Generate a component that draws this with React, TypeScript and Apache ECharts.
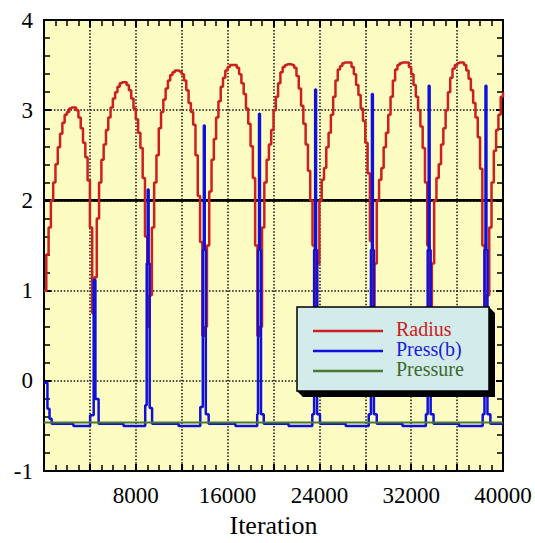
import React, { useEffect, useRef } from 'react';
import * as echarts from 'echarts';

// Bubble radius, stored every SAMPLE_STEP iterations (one value per output step)
const SAMPLE_STEP = 200;
const radius: number[] = [
  1.0, 1.4, 1.7, 2.0, 2.2, 2.4, 2.59, 2.74, 2.86, 2.95, 2.98, 3.02, 3.03, 3.03, 3.0, 2.92, 2.8, 2.64, 2.48, 2.22, 1.7, 0.75,
  1.15, 1.8, 2.2, 2.45, 2.62, 2.78, 2.92, 3.03, 3.13, 3.2, 3.26, 3.3, 3.31, 3.31, 3.28, 3.22, 3.13, 3.02, 2.9, 2.75, 2.58, 2.25, 1.6, 0.6,
  0.95, 1.7, 2.2, 2.5, 2.8, 2.98, 3.12, 3.24, 3.33, 3.39, 3.42, 3.44, 3.44, 3.43, 3.4, 3.33, 3.22, 3.08, 2.98, 2.84, 2.5, 2.05, 1.54, 0.5,
  0.6, 1.5, 2.1, 2.45, 2.68, 2.92, 3.1, 3.26, 3.36, 3.44, 3.48, 3.5, 3.5, 3.5, 3.47, 3.4, 3.3, 3.18, 3.02, 2.85, 2.6, 2.25, 1.5, 0.5,
  0.6, 1.7, 2.2, 2.45, 2.62, 2.78, 3.0, 3.15, 3.3, 3.42, 3.48, 3.5, 3.51, 3.51, 3.5, 3.47, 3.38, 3.24, 3.05, 2.85, 2.62, 2.33, 2.0, 1.5, 0.45,
  1.3, 2.0, 2.23, 2.36, 2.59, 2.75, 2.95, 3.15, 3.33, 3.45, 3.49, 3.52, 3.53, 3.53, 3.53, 3.48, 3.4, 3.28, 3.17, 3.02, 2.88, 2.64, 2.3, 1.55, 0.45,
  1.3, 2.0, 2.23, 2.36, 2.59, 2.75, 2.95, 3.15, 3.33, 3.45, 3.5, 3.52, 3.53, 3.53, 3.53, 3.48, 3.4, 3.28, 3.15, 3.0, 2.82, 2.58, 2.2, 1.5, 0.45,
  1.3, 2.0, 2.25, 2.4, 2.62, 2.8, 3.0, 3.2, 3.36, 3.46, 3.5, 3.52, 3.53, 3.53, 3.5, 3.44, 3.35, 3.22, 3.08, 2.92, 2.7, 2.35, 1.5, 0.45,
  0.95, 1.7, 2.2, 2.55, 2.78, 2.95, 3.15, 3.2,
];

// Press(b): [iteration, value] at each change of the stepped signal
const pressB: [number, number][] = [
  [0, -0.02], [300, -0.31], [480, -0.42], [670, -0.475],
  [2560, -0.5], [4020, -0.38], [4330, 1.12], [4480, -0.2], [4760, -0.475],
  [6930, -0.5], [8820, -0.27], [8950, 1.3], [9040, 2.12], [9120, 1.3], [9210, -0.3], [9420, -0.475],
  [11730, -0.5], [13620, -0.29], [13840, 1.45], [13930, 2.83], [14010, 1.45], [14100, -0.37], [14350, -0.475],
  [16680, -0.5], [18580, -0.37], [18650, 1.45], [18740, 2.96], [18820, 1.45], [18910, -0.37], [19150, -0.475],
  [21310, -0.5], [23380, -0.37], [23540, 1.45], [23630, 3.23], [23710, 1.45], [23800, -0.37], [24050, -0.475],
  [26290, -0.5], [28300, -0.37], [28490, 1.45], [28580, 3.18], [28660, 1.45], [28750, -0.37], [29000, -0.475],
  [31240, -0.5], [33280, -0.37], [33435, 1.45], [33525, 3.27], [33605, 1.45], [33695, -0.37], [33950, -0.475],
  [36160, -0.5], [38230, -0.37], [38385, 1.45], [38475, 3.27], [38555, 1.45], [38645, -0.37], [38900, -0.475],
  [40000, -0.475],
];

// Pressure stays flat over the run
const pressure: [number, number][] = [[0, -0.46], [40000, -0.46]];

// Reference level drawn as a solid line
const referenceLevel: [number, number][] = [[0, 2], [40000, 2]];

const xLabelValues = [8000, 16000, 24000, 32000, 40000];

const legendItems = [
  { name: 'Radius', line: '#cc2020', text: '#c81e1e' },
  { name: 'Press(b)', line: '#1010dd', text: '#1a1ae0' },
  { name: 'Pressure', line: '#4a7a32', text: '#3b6a2a' },
];

const SERIF = '"Liberation Serif", "Times New Roman", serif';

export default function App() {
  const ref = useRef<HTMLDivElement>(null);

  useEffect(() => {
    if (!ref.current) return;
    const chart = echarts.init(ref.current, null, { renderer: 'svg' });

    const radiusData = radius.map((v, i) => [i * SAMPLE_STEP, v]);

    const axisLine = { show: true, onZero: false, lineStyle: { color: '#000', width: 2 } };
    const axisTick = { show: true, inside: true, length: 7, lineStyle: { color: '#000', width: 2 } };
    const dotted = { show: true, lineStyle: { color: '#111', width: 1.5, type: [1.5, 1.8] } };

    const legendGraphics: any[] = [
      {
        type: 'polygon',
        z: 50,
        shape: { points: [[297, 391], [303, 397], [495, 397], [495, 313], [489, 307], [489, 391]] },
        style: { fill: '#000' },
      },
      {
        type: 'rect',
        z: 51,
        shape: { x: 297, y: 307, width: 192, height: 84 },
        style: { fill: '#d3ebea', stroke: '#000', lineWidth: 1.5 },
      },
    ];
    legendItems.forEach((it, k) => {
      legendGraphics.push({
        type: 'line',
        z: 52,
        shape: { x1: 313, y1: 331 + 20 * k, x2: 383, y2: 331 + 20 * k },
        style: { stroke: it.line, lineWidth: 2.5 },
      });
      legendGraphics.push({
        type: 'text',
        z: 52,
        x: 396,
        y: 329 + 20 * k,
        style: {
          text: it.name,
          fill: it.text,
          fontSize: 20,
          fontFamily: SERIF,
          textVerticalAlign: 'middle',
          verticalAlign: 'middle',
        },
      });
    });

    chart.setOption({
      animation: false,
      grid: {
        left: 44,
        top: 20,
        width: 459,
        height: 460,
        show: true,
        backgroundColor: '#fcfbc2',
        borderColor: '#000',
        borderWidth: 2,
      },
      xAxis: [
        {
          type: 'value',
          min: 0,
          max: 40000,
          interval: 4000,
          position: 'bottom',
          axisLine,
          axisTick,
          minorTick: { show: true, splitNumber: 4, length: 6, lineStyle: { color: '#000', width: 1.5 } },
          splitLine: dotted,
          axisLabel: {
            margin: 13,
            fontSize: 23,
            fontFamily: SERIF,
            color: '#000',
            formatter: (v: number) => (xLabelValues.includes(v) ? String(v) : ''),
          },
          name: 'Iteration',
          nameLocation: 'middle',
          nameGap: 33,
          nameTextStyle: { fontSize: 26, fontFamily: SERIF, color: '#000' },
        },
        {
          type: 'value',
          min: 0,
          max: 40000,
          interval: 4000,
          position: 'top',
          axisLine,
          axisTick,
          minorTick: { show: true, splitNumber: 4, length: 6, lineStyle: { color: '#000', width: 1.5 } },
          splitLine: { show: false },
          axisLabel: { show: false },
        },
      ],
      yAxis: [
        {
          type: 'value',
          min: -1,
          max: 4,
          interval: 1,
          position: 'left',
          axisLine,
          axisTick,
          minorTick: { show: true, splitNumber: 5, length: 6, lineStyle: { color: '#000', width: 1.5 } },
          splitLine: dotted,
          axisLabel: { margin: 11, fontSize: 23, fontFamily: SERIF, color: '#000' },
        },
        {
          type: 'value',
          min: -1,
          max: 4,
          interval: 1,
          position: 'right',
          axisLine,
          axisTick,
          minorTick: { show: true, splitNumber: 5, length: 6, lineStyle: { color: '#000', width: 1.5 } },
          splitLine: { show: false },
          axisLabel: { show: false },
        },
      ],
      series: [
        {
          name: 'level',
          type: 'line',
          data: referenceLevel,
          symbol: 'none',
          silent: true,
          lineStyle: { color: '#000', width: 2.8 },
          z: 1,
        },
        {
          name: 'Radius',
          type: 'line',
          step: 'end',
          data: radiusData,
          symbol: 'none',
          lineStyle: { color: legendItems[0].line, width: 2.5 },
          itemStyle: { color: legendItems[0].line },
          z: 2,
        },
        {
          name: 'Press(b)',
          type: 'line',
          step: 'end',
          data: pressB,
          symbol: 'none',
          lineStyle: { color: legendItems[1].line, width: 2.5 },
          itemStyle: { color: legendItems[1].line },
          z: 3,
        },
        {
          name: 'Pressure',
          type: 'line',
          data: pressure,
          symbol: 'none',
          lineStyle: { color: legendItems[2].line, width: 2 },
          itemStyle: { color: legendItems[2].line },
          z: 4,
        },
      ],
      graphic: legendGraphics,
    });

    return () => chart.dispose();
  }, []);

  return (
    <div
      ref={ref}
      style={{ position: 'fixed', left: 0, top: 0, width: 535, height: 543, background: '#fff' }}
    />
  );
}
